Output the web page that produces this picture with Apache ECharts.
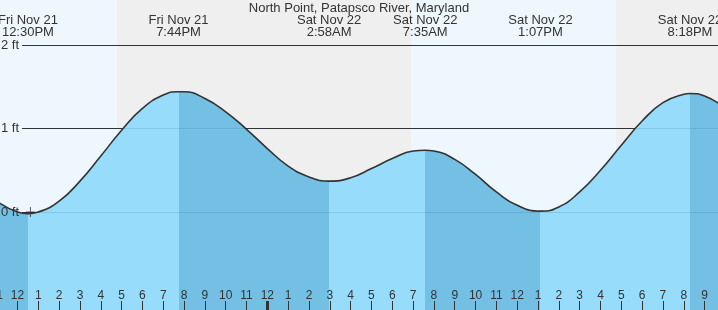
<!DOCTYPE html>
<html><head><meta charset="utf-8">
<script src="https://cdn.jsdelivr.net/npm/echarts@6/dist/echarts.min.js"></script>
<style>html,body{margin:0;padding:0;background:#eef7fe}#c{width:718px;height:310px}</style>
</head><body><div id="c"></div>
<script>
// ---- data (hours are counted from Fri Nov 21, 12:00 PM) ----
const chartTitle = 'North Point, Patapsco River, Maryland';
const tideHours  = [-1,0,1,2,3,4,5,6,7,8,9,10,11,12,13,14,15,16,17,18,19,20,21,22,23,24,25,26,27,28,29,30,31,32,33,34];
const tideLevels = [0.13,0.00,0.00,0.13,0.37,0.67,0.98,1.24,1.40,1.44,1.36,1.20,0.99,0.76,0.55,0.42,0.37,0.41,0.52,0.64,0.73,0.73,0.63,0.45,0.24,0.08,0.01,0.06,0.24,0.50,0.80,1.09,1.31,1.41,1.39,1.24];
const hourTicks  = [-1,0,1,2,3,4,5,6,7,8,9,10,11,12,13,14,15,16,17,18,19,20,21,22,23,24,25,26,27,28,29,30,31,32,33,34];
const extremeDays   = ['Fri Nov 21','Fri Nov 21','Sat Nov 22','Sat Nov 22','Sat Nov 22','Sat Nov 22'];
const extremeDayIdx = [0,0,1,1,1,1];
const extremeTimes  = ['12:30PM','7:44PM','2:58AM','7:35AM','1:07PM','8:18PM'];
const extremeTypes  = ['L','H','L','H','L','H'];
const extremeLevels = [-0.02,1.44,0.37,0.74,0.01,1.42];
const nightStarts = [[0,'4:47PM'],[1,'4:45PM']];
const nightEnds   = [[1,'6:54AM'],[1,'11:59PM']];
const yTicks = [0,1,2];
const midnightHour = 12;
const nowMarker = [0.62, 0];
const axisMin = -1, axisMax = 34;

function toHour(dayIdx, t){
  const m = t.match(/(\d+):(\d+)(AM|PM)/);
  let h = (+m[1]) % 12 + (m[3]==='PM'?12:0);
  return dayIdx*24 + h + (+m[2])/60 - 12;
}
const extremeHours = extremeTimes.map((t,i)=>toHour(extremeDayIdx[i], t));
const nightBands = nightStarts.map((s,i)=>[toHour(s[0],s[1]), Math.min(axisMax, toHour(nightEnds[i][0], nightEnds[i][1]))]);

let pts = [];
tideHours.forEach((h,i)=>{ if (!extremeHours.some(e=>Math.abs(e-h)<0.2)) pts.push([h, tideLevels[i]]); });
extremeHours.forEach((h,i)=>pts.push([h, extremeLevels[i]]));
pts.sort((a,b)=>a[0]-b[0]);

const LIGHT = '#97dcfb', DARK = '#73c0e4';
const pieces = [];
pieces.push({lt: extremeHours[0], color: extremeTypes[0]==='L'?DARK:LIGHT});
for (let i=0;i<extremeHours.length;i++){
  const rising = extremeTypes[i]==='L';
  const p = {gte: extremeHours[i], color: rising?LIGHT:DARK};
  if (i<extremeHours.length-1) p.lt = extremeHours[i+1];
  pieces.push(p);
}

const FONT = 'Liberation Sans, Arial, sans-serif';
const noLine = {show:false,onZero:false};
const tickAxis = (vals, w, z) => ({gridIndex:0,type:'value',min:axisMin,max:axisMax,position:'bottom',z:z,
     axisLine:noLine,splitLine:{show:false},axisLabel:{show:false},
     axisTick:{show:true,inside:true,length:9,customValues:vals,lineStyle:{color:'#333',width:w}}});
const chart = echarts.init(document.getElementById('c'), null, {renderer:'canvas'});
chart.setOption({
  animation:false,
  backgroundColor:'#eef7fe',
  textStyle:{fontFamily:FONT},
  title:{text:chartTitle,left:'center',top:2,padding:0,textStyle:{fontSize:13,fontWeight:'normal',color:'#333',fontFamily:FONT}},
  grid:[
    {left:-3.3,right:-7.4,top:0,bottom:0,containLabel:false,outerBoundsMode:'none'},
    {left:22,right:0,top:45,bottom:98,containLabel:false,outerBoundsMode:'none'}
  ],
  visualMap:{type:'piecewise',show:false,seriesIndex:1,dimension:0,pieces:pieces},
  xAxis:[
    {gridIndex:0,type:'value',min:axisMin,max:axisMax,interval:1,position:'bottom',z:6,
     axisLine:noLine,splitLine:{show:false},axisTick:{show:false},
     axisLabel:{inside:true,margin:8,fontSize:12,color:'#333',fontFamily:FONT,
       formatter:v=>{const h=((Math.round(v)+12)%12+12)%12;return String(h===0?12:h);}}},
    {gridIndex:0,type:'value',min:axisMin,max:axisMax,position:'top',z:6,
     axisLine:noLine,splitLine:{show:false},axisTick:{show:false},
     axisLabel:{inside:true,margin:14,customValues:extremeHours,fontSize:13,lineHeight:12,color:'#333',fontFamily:FONT,
       formatter:v=>{const i=extremeHours.findIndex(e=>Math.abs(e-v)<1e-6);return i<0?'':extremeDays[i]+'\n'+extremeTimes[i];}}},
    tickAxis(hourTicks, 1, 7),
    {gridIndex:1,type:'value',min:0,max:1,show:false,axisLine:noLine},
    tickAxis([midnightHour], 3, 8)
  ],
  yAxis:[
    {gridIndex:0,type:'value',min:-1.174,max:2.539,show:false,axisLine:noLine},
    {gridIndex:1,type:'value',min:0,max:2,interval:1,z:1,
     axisLine:noLine,axisTick:{show:false},axisLabel:{show:false},
     splitLine:{lineStyle:{color:'#333',width:1}}},
    {gridIndex:1,type:'value',min:0,max:2,interval:1,z:6,position:'left',
     axisLine:noLine,axisTick:{show:false},splitLine:{show:false},
     axisLabel:{formatter:'{value} ft',margin:3,fontSize:13,color:'#333',fontFamily:FONT}}
  ],
  series:[
    {type:'line',xAxisIndex:0,yAxisIndex:0,data:[],z:0,silent:true,
     markArea:{silent:true,z:0,itemStyle:{color:'#efefef'},data:nightBands.map(b=>[{xAxis:b[0]},{xAxis:b[1]}])}},
    {type:'line',xAxisIndex:0,yAxisIndex:0,data:pts,smooth:0.5,symbol:'none',z:2,silent:true,
     lineStyle:{width:0},areaStyle:{opacity:1,origin:'start'}},
    {type:'line',xAxisIndex:0,yAxisIndex:0,data:pts,smooth:0.5,symbol:'none',z:3,silent:true,
     lineStyle:{color:'#333',width:1.6}},
    {type:'line',xAxisIndex:3,yAxisIndex:1,data:[],z:4,silent:true,
     markLine:{silent:true,symbol:'none',label:{show:false},animation:false,
       lineStyle:{color:'rgba(0,60,100,0.13)',type:'solid',width:1},
       data:yTicks.map(v=>({yAxis:v}))}},
    {type:'scatter',xAxisIndex:0,yAxisIndex:0,data:[nowMarker],z:5,silent:true,
     symbol:'path://M4,0H5V10H4Z M0,4.5H9V5.5H0Z',symbolSize:[9,10],itemStyle:{color:'#333'}}
  ]
});
</script></body></html>
